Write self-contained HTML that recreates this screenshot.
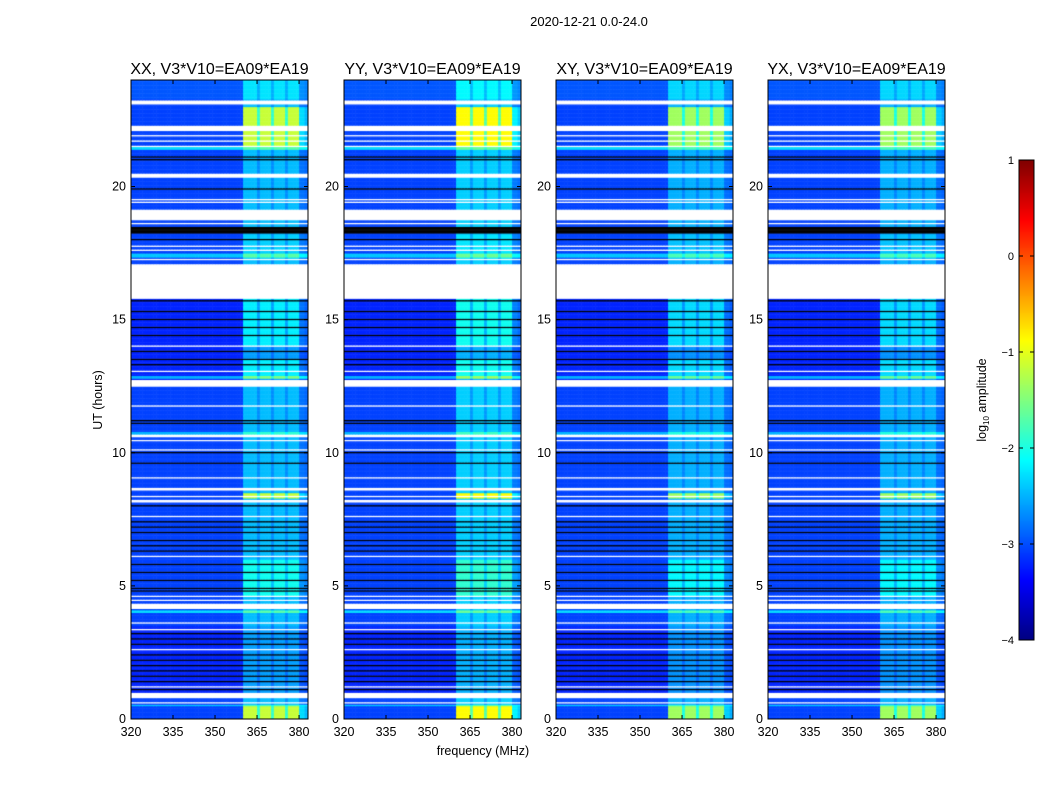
<!DOCTYPE html>
<html><head><meta charset="utf-8">
<style>
body{margin:0;background:#fff;width:1050px;height:800px;overflow:hidden;position:relative;font-family:"Liberation Sans",sans-serif}
canvas{position:absolute}
svg{position:absolute;left:0;top:0}
</style></head>
<body>
<div>
<canvas id="c0" width="177" height="639" style="left:131px;top:80px"></canvas>
<canvas id="c1" width="177" height="639" style="left:344px;top:80px"></canvas>
<canvas id="c2" width="177" height="639" style="left:556px;top:80px"></canvas>
<canvas id="c3" width="177" height="639" style="left:768px;top:80px"></canvas>
<canvas id="cb" width="15" height="480" style="left:1019px;top:160px"></canvas>
<svg id="ov" width="1050" height="800"></svg>
</div>
<script>
const titles=["XX, V3*V10=EA09*EA19","YY, V3*V10=EA09*EA19","XY, V3*V10=EA09*EA19","YX, V3*V10=EA09*EA19"];
const panelLeft=[131,344,556,768];
const polGain=[1.0,1.15,0.9,0.9];
const xTicks=[320,335,350,365,380];
const yTicks=[0,5,10,15,20];
const cbTicks=[1,0,-1,-2,-3,-4];
const baseLevel=-3.05;
const defaultBandGain=0.6;
// channel band brightness, 320..383 MHz (1 MHz channels)
const chanProfile=[0,0,0,0,0,0,0,0,0,0,0,0,0,0,0,0,0,0,0,0,0,0,0,0,0,0,0,0,0,0,0,0,0,0,0,0,0,0,0,0,
 1,1,1,1,1,0.6,1,1,1,1,0.6,1,1,1,1,0.6,1,1,1,1,0.4,0.4,0.3,0.3];
// level segments [t0,t1,log amplitude]
const levelSegs=[[23.3,24,-2.95],[12.5,15.8,-3.2],[1.0,3.5,-3.2],[21.4,21.5,-2.3],[17.35,17.5,-2.4],[10.7,10.8,-2.5],[4.0,4.1,-2.3],[12.8,12.9,-2.5],[0.5,0.55,-2.4]];
const bandSegs=[[21.5,23.0,1.9],[0,0.5,1.9],[8.3,8.5,1.9],[14,15.8,1.0],[12.8,13.5,1.0],[4.6,6,1.0],[17.3,18.2,0.7],[23.3,24,0.7]];
const whiteSegs=[[23.1,23.25],[22.1,22.3],[21.9,21.95],[21.7,21.75],[21.5,21.55],[20.35,20.5],[19.5,19.55],[19.4,19.45],[18.75,19.15],[18.6,18.65],[17.75,17.8],[17.6,17.65],[17.25,17.3],[15.8,17.1],[14.0,14.05],[13.05,13.12],[12.5,12.75],[11.75,11.8],[10.58,10.7],[10.45,10.5],[10.1,10.15],[9.05,9.1],[8.62,8.68],[8.35,8.4],[8.15,8.27],[7.6,7.65],[6.1,6.15],[4.6,4.65],[4.45,4.5],[4.15,4.35],[3.6,3.65],[3.35,3.4],[2.6,2.65],[1.2,1.25],[0.8,1.0],[0.6,0.65]];
const blackSegs=[[21.1,21.15],[21.0,21.03],[19.9,19.95],[18.25,18.5],[18.0,18.05],[15.7,15.75],[15.3,15.35],[15.0,15.05],[14.7,14.75],[14.4,14.45],[13.8,13.85],[13.5,13.55],[13.3,13.35],[11.2,11.25],[11.1,11.15],[10.0,10.05],[9.6,9.65],[8.0,8.05],[7.4,7.45],[7.2,7.25],[7.0,7.05],[6.7,6.75],[6.5,6.55],[6.3,6.35],[5.8,5.85],[5.5,5.55],[5.2,5.25],[4.9,4.95],[4.8,4.85],[3.2,3.25],[3.0,3.05],[2.8,2.85],[2.4,2.45],[2.2,2.25],[2.0,2.05],[1.8,1.85],[1.6,1.65],[1.4,1.45],[1.1,1.15]];

const W=177,H=639,F0=320,F1=383.2,T0=0,T1=24;
const xs=f=>(f-F0)/(F1-F0)*W;
const ys=t=>H-(t-T0)/(T1-T0)*H;
function jet(v){let t=(v+4)/5;t=Math.max(0,Math.min(1,t));const c=x=>Math.round(255*Math.max(0,Math.min(1,x)));
 return `rgb(${c(1.5-Math.abs(4*t-3))},${c(1.5-Math.abs(4*t-2))},${c(1.5-Math.abs(4*t-1))})`;}
const dt=0.05,nRows=Math.round(24/dt);
function rowInfo(t){let lv=baseLevel,g=defaultBandGain,kind='v';
 levelSegs.forEach(s=>{if(t>=s[0]&&t<s[1])lv=s[2];});
 bandSegs.forEach(s=>{if(t>=s[0]&&t<s[1])g=s[2];});
 blackSegs.forEach(s=>{if(t>=s[0]&&t<s[1])kind='k';});
 whiteSegs.forEach(s=>{if(t>=s[0]&&t<s[1])kind='w';});
 return {lv,g,kind};}
for(let p=0;p<4;p++){
 const ctx=document.getElementById('c'+p).getContext('2d');
 for(let r=0;r<nRows;r++){
  const t=r*dt+dt/2,info=rowInfo(t);
  const y0=ys(r*dt+dt),y1=ys(r*dt);
  if(info.kind==='w'){ctx.fillStyle='#fff';ctx.fillRect(0,y0,W,y1-y0+0.5);continue;}
  if(info.kind==='k'){ctx.fillStyle='#000';ctx.fillRect(0,y0,W,y1-y0+0.5);continue;}
  for(let c=0;c<chanProfile.length;c++){
   const v=info.lv+chanProfile[c]*info.g*polGain[p];
   ctx.fillStyle=jet(v);
   const x0=xs(F0+c),x1=xs(F0+c+1);
   ctx.fillRect(x0,y0,x1-x0+0.5,y1-y0+0.5);
  }
 }
}
{const ctx=document.getElementById('cb').getContext('2d');
 for(let i=0;i<480;i++){ctx.fillStyle=jet(1-5*i/480);ctx.fillRect(0,i,15,1);}}
const ns="http://www.w3.org/2000/svg",ov=document.getElementById('ov');
function el(tag,attrs,txt){const e=document.createElementNS(ns,tag);for(const k in attrs)e.setAttribute(k,attrs[k]);if(txt!==undefined)e.textContent=txt;ov.appendChild(e);return e;}
function lab(s){return String(s).replace('-','\u2212');}
let e=el('text',{x:589,y:26,'text-anchor':'middle','font-size':13,fill:'#000'},'2020-12-21 0.0-24.0');


for(let p=0;p<4;p++){
 const L=panelLeft[p];
 e=el('rect',{x:L,y:80,width:W,height:H,fill:'none',stroke:'#000','stroke-width':1});
 
 
 e=el('text',{x:L+W/2,y:74,'text-anchor':'middle','font-size':16,fill:'#000'},titles[p]);
 
 
 xTicks.forEach(f=>{const x=L+xs(f);
  el('line',{x1:x,x2:x,y1:719,y2:715,stroke:'#000'});el('line',{x1:x,x2:x,y1:80,y2:84,stroke:'#000'});
  e=el('text',{x:x,y:736,'text-anchor':'middle','font-size':12.5,fill:'#000'},f);
  
  });
 yTicks.forEach(t=>{const y=80+ys(t);
  el('line',{x1:L,x2:L+4,y1:y,y2:y,stroke:'#000'});el('line',{x1:L+W-4,x2:L+W,y1:y,y2:y,stroke:'#000'});
  e=el('text',{x:L-5,y:y+4,'text-anchor':'end','font-size':12.5,fill:'#000'},t);
  
  });
}
e=el('text',{x:483,y:755,'text-anchor':'middle','font-size':12.5,fill:'#000'},'frequency (MHz)');


e=el('text',{x:0,y:0,'text-anchor':'middle','font-size':12.5,fill:'#000',transform:'translate(102,400) rotate(-90)'},'UT (hours)');


e=el('rect',{x:1019,y:160,width:15,height:480,fill:'none',stroke:'#000'});


cbTicks.forEach(v=>{const y=160+(1-v)/5*480;
 el('line',{x1:1019,x2:1023,y1:y,y2:y,stroke:'#000'});el('line',{x1:1030,x2:1034,y1:y,y2:y,stroke:'#000'});
 e=el('text',{x:1014,y:y+4,'text-anchor':'end','font-size':11,fill:'#000'},lab(v));
 
 });
e=el('text',{x:0,y:0,'text-anchor':'middle','font-size':12.5,fill:'#000',transform:'translate(986,400) rotate(-90)'});
e.innerHTML='log<tspan font-size="8" dy="3">10</tspan><tspan dy="-3"> amplitude</tspan>';


</script>
</body></html>
